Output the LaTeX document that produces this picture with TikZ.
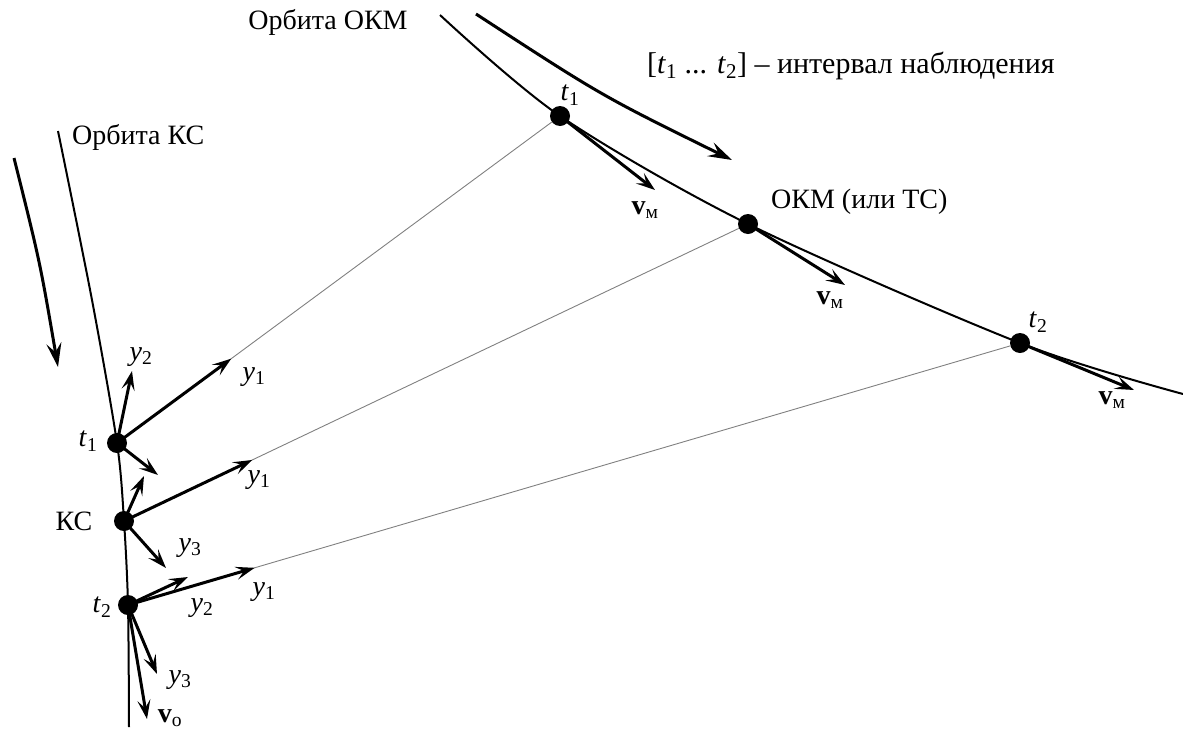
\documentclass[tikz,border=0pt]{standalone}
\usepackage{fontspec}
\setmainfont{Liberation Serif}
\usetikzlibrary{arrows.meta, calc}
\tikzset{
  orbit/.style={line width=2pt, draw=black},
  sightline/.style={line width=0.9pt, draw=black!50},
  satdot/.style={circle, fill=black, minimum size=20pt, inner sep=0pt},
  vec/.style={line width=3pt, -{Stealth[length=19pt, width=13pt, inset=8pt]}},
  motion/.style={line width=3pt, -{Stealth[length=24pt, width=15pt, inset=9pt]}},
  lbl/.style={font=\fontsize{28}{32}\selectfont, inner sep=1pt}
}
\newcommand{\ax}[2]{\textit{#1}\textsubscript{#2}}
\newcommand{\vel}[1]{\textbf{v}\textsubscript{#1}}

\begin{document}
\begin{tikzpicture}[x=1pt, y=-1pt]
\useasboundingbox (0,0) rectangle (1183,734);

%% POSITIONS ON THE ORBITS
\coordinate (ks1) at (117,443);
\coordinate (ksm) at (124,521);
\coordinate (ks2) at (128,605);
\coordinate (m1) at (560,116);
\coordinate (mm) at (748,224);
\coordinate (m2) at (1020,343);

%% ORBITS
\draw[orbit] plot[smooth] coordinates {(58,131) (92,300) (ks1) (ksm) (ks2) (129,727)};
\draw[orbit] plot[smooth] coordinates {(440,15) (m1) (mm) (m2) (1183,394)};

%% DIRECTION OF MOTION
\draw[motion] (14,158) .. controls (40,262) .. (58,367);
\draw[motion] (476,14) .. controls (602,96) .. (732,160);

%% SATELLITES
\node[satdot] (KS1) at (ks1) {};
\node[satdot] (KS) at (ksm) {};
\node[satdot] (KS2) at (ks2) {};
\node[satdot] (M1) at (m1) {};
\node[satdot] (M) at (mm) {};
\node[satdot] (M2) at (m2) {};

%% LINES OF SIGHT
\draw[sightline] (KS1) -- (M1);
\draw[sightline] (KS) -- (M);
\draw[sightline] (KS2) -- (M2);

%% BASIS VECTORS
\draw[vec] (KS1.center) -- ($(KS1)!142pt!(M1)$);
\draw[vec] (KS.center) -- ($(KS)!142pt!(M)$);
\draw[vec] (KS2.center) -- ($(KS2)!132pt!(M2)$);
\draw[vec] (KS1.center) -- (132,371);
\draw[vec] (KS1.center) -- (158,475);
\draw[vec] (KS.center) -- (144,476);
\draw[vec] (KS.center) -- (166,568);
\draw[vec] (KS2.center) -- (188,577);
\draw[vec] (KS2.center) -- (157,674);
\draw[vec] (KS2.center) -- (147,719);

%% VELOCITIES
\draw[vec] (M1.center) -- (655,190);
\draw[vec] (M.center) -- (845,285);
\draw[vec] (M2.center) -- (1134,390);

%% LABELS
\node[lbl] (orbOKM) at (328,22) {Орбита ОКМ};
\node[lbl, anchor=west] (orbKS) at (71,137) {Орбита КС};
\node[lbl, anchor=west, font=\fontsize{30}{34}\selectfont] (interval) at (646,66) {[\ax{t}{1} ... \ax{t}{2}] – интервал наблюдения};
\node[lbl, anchor=west] (okm) at (770,202) {ОКМ (или ТС)};
\node[lbl] (ks) at (74,521) {КС};

\node[lbl] (tm1) at (570,95) {\ax{t}{1}};
\node[lbl] (tm2) at (1038,322) {\ax{t}{2}};
\node[lbl] (tk1) at (88,441) {\ax{t}{1}};
\node[lbl] (tk2) at (102,607) {\ax{t}{2}};

\node[lbl] (y2a) at (141,357) {\ax{y}{2}};
\node[lbl] (y1a) at (254,377) {\ax{y}{1}};
\node[lbl] (y1b) at (259,480) {\ax{y}{1}};
\node[lbl] (y3b) at (190,548) {\ax{y}{3}};
\node[lbl] (y2c) at (202,608) {\ax{y}{2}};
\node[lbl] (y1c) at (264,592) {\ax{y}{1}};
\node[lbl] (y3c) at (180,680) {\ax{y}{3}};
\node[lbl] (vo) at (170,718) {\vel{о}};

\node[lbl] (vm1) at (645,210) {\vel{м}};
\node[lbl] (vm) at (830,300) {\vel{м}};
\node[lbl] (vm2) at (1112,400) {\vel{м}};

\end{tikzpicture}
\end{document}
